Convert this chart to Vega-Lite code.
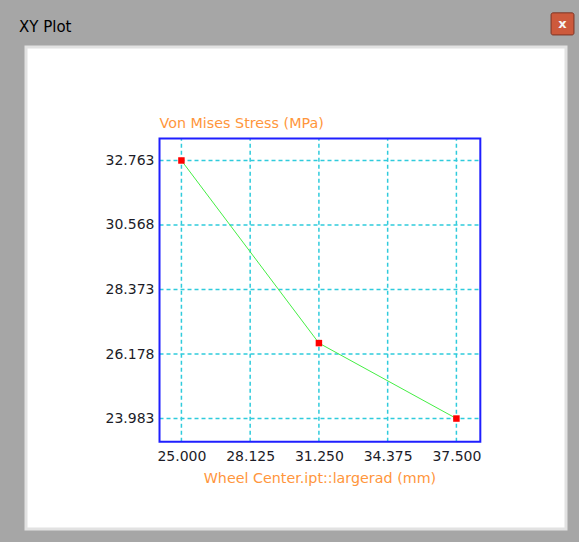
{
  "$schema": "https://vega.github.io/schema/vega-lite/v6.json",
  "width": 579,
  "height": 542,
  "autosize": {"type": "fit", "contains": "padding"},
  "padding": {"left": 19, "top": 8, "right": 3, "bottom": 13},
  "background": "#a6a6a6",
  "title": {
    "text": "XY Plot",
    "anchor": "start",
    "frame": "group",
    "offset": -23,
    "dx": -7,
    "font": "DejaVu Sans",
    "fontSize": 15,
    "fontWeight": "normal",
    "color": "#000000"
  },
  "config": {
    "view": {"fill": "#ffffff", "stroke": "#e2e2e2", "strokeWidth": 3},
    "axis": {
      "domain": false, "ticks": false, "grid": false,
      "labelFont": "DejaVu Sans", "labelFontSize": 14, "labelColor": "#1c1c28",
      "labelFlush": false, "labelOverlap": false
    }
  },
  "datasets": {
    "series": [
      {"x": 25.0, "y": 32.763},
      {"x": 31.25, "y": 26.55},
      {"x": 37.5, "y": 23.983}
    ],
    "xticks": [{"x": 25.0}, {"x": 28.125}, {"x": 31.25}, {"x": 34.375}, {"x": 37.5}],
    "yticks": [{"y": 23.983}, {"y": 26.178}, {"y": 28.373}, {"y": 30.568}, {"y": 32.763}]
  },
  "layer": [
    {
      "data": {"name": "xticks"},
      "mark": {"type": "rule", "color": "#2fcbdc", "strokeWidth": 1.5, "strokeDash": [4, 3]},
      "encoding": {
        "x": {"field": "x", "type": "quantitative", "scale": {"domain": [17.935, 42.482], "nice": false, "zero": false},
          "axis": {"values": [25, 28.125, 31.25, 34.375, 37.5], "format": ".3f", "offset": -87, "labelPadding": 7, "title": null}},
        "y": {"datum": 23.197, "type": "quantitative", "scale": {"domain": [20.225, 36.624], "nice": false, "zero": false},
          "axis": {"values": [23.983, 26.178, 28.373, 30.568, 32.763], "format": ".3f", "offset": -134, "labelPadding": 6, "title": null}},
        "y2": {"datum": 33.515}
      }
    },
    {
      "data": {"name": "yticks"},
      "mark": {"type": "rule", "color": "#2fcbdc", "strokeWidth": 1.5, "strokeDash": [4, 3]},
      "encoding": {
        "y": {"field": "y", "type": "quantitative", "scale": {"domain": [20.225, 36.624], "nice": false, "zero": false},
          "axis": {"values": [23.983, 26.178, 28.373, 30.568, 32.763], "format": ".3f", "offset": -134, "labelPadding": 6, "title": null}},
        "x": {"datum": 24.004, "type": "quantitative", "scale": {"domain": [17.935, 42.482], "nice": false, "zero": false},
          "axis": {"values": [25, 28.125, 31.25, 34.375, 37.5], "format": ".3f", "offset": -87, "labelPadding": 7, "title": null}},
        "x2": {"datum": 38.587}
      }
    },
    {
      "data": {"values": [{}]},
      "mark": {"type": "rect", "fill": null, "fillOpacity": 0, "stroke": "#1f1fff", "strokeWidth": 2},
      "encoding": {
        "x": {"datum": 24.004, "type": "quantitative", "scale": {"domain": [17.935, 42.482], "nice": false, "zero": false},
          "axis": {"values": [25, 28.125, 31.25, 34.375, 37.5], "format": ".3f", "offset": -87, "labelPadding": 7, "title": null}},
        "x2": {"datum": 38.587},
        "y": {"datum": 23.197, "type": "quantitative", "scale": {"domain": [20.225, 36.624], "nice": false, "zero": false},
          "axis": {"values": [23.983, 26.178, 28.373, 30.568, 32.763], "format": ".3f", "offset": -134, "labelPadding": 6, "title": null}},
        "y2": {"datum": 33.515}
      }
    },
    {
      "data": {"name": "series"},
      "mark": {"type": "line", "color": "#44ee44", "strokeWidth": 1},
      "encoding": {
        "x": {"field": "x", "type": "quantitative", "scale": {"domain": [17.935, 42.482], "nice": false, "zero": false},
          "axis": {"values": [25, 28.125, 31.25, 34.375, 37.5], "format": ".3f", "offset": -87, "labelPadding": 7, "title": null}},
        "y": {"field": "y", "type": "quantitative", "scale": {"domain": [20.225, 36.624], "nice": false, "zero": false},
          "axis": {"values": [23.983, 26.178, 28.373, 30.568, 32.763], "format": ".3f", "offset": -134, "labelPadding": 6, "title": null}}
      }
    },
    {
      "data": {"name": "series"},
      "mark": {"type": "square", "color": "#ff0000", "opacity": 1, "size": 42},
      "encoding": {
        "x": {"field": "x", "type": "quantitative", "scale": {"domain": [17.935, 42.482], "nice": false, "zero": false},
          "axis": {"values": [25, 28.125, 31.25, 34.375, 37.5], "format": ".3f", "offset": -87, "labelPadding": 7, "title": null}},
        "y": {"field": "y", "type": "quantitative", "scale": {"domain": [20.225, 36.624], "nice": false, "zero": false},
          "axis": {"values": [23.983, 26.178, 28.373, 30.568, 32.763], "format": ".3f", "offset": -134, "labelPadding": 6, "title": null}}
      }
    },
    {
      "data": {"values": [{}]},
      "mark": {"type": "text", "text": "Von Mises Stress (MPa)", "align": "left", "baseline": "middle", "dy": -14, "font": "DejaVu Sans", "fontSize": 14.3, "color": "#ff963c"},
      "encoding": {
        "x": {"datum": 24.004, "type": "quantitative", "scale": {"domain": [17.935, 42.482], "nice": false, "zero": false},
          "axis": {"values": [25, 28.125, 31.25, 34.375, 37.5], "format": ".3f", "offset": -87, "labelPadding": 7, "title": null}},
        "y": {"datum": 33.515, "type": "quantitative", "scale": {"domain": [20.225, 36.624], "nice": false, "zero": false},
          "axis": {"values": [23.983, 26.178, 28.373, 30.568, 32.763], "format": ".3f", "offset": -134, "labelPadding": 6, "title": null}}
      }
    },
    {
      "data": {"values": [{}]},
      "mark": {"type": "text", "text": "Wheel Center.ipt::largerad (mm)", "align": "center", "baseline": "middle", "dy": 37, "font": "DejaVu Sans", "fontSize": 14.3, "color": "#ff963c"},
      "encoding": {
        "x": {"datum": 31.2955, "type": "quantitative", "scale": {"domain": [17.935, 42.482], "nice": false, "zero": false},
          "axis": {"values": [25, 28.125, 31.25, 34.375, 37.5], "format": ".3f", "offset": -87, "labelPadding": 7, "title": null}},
        "y": {"datum": 23.197, "type": "quantitative", "scale": {"domain": [20.225, 36.624], "nice": false, "zero": false},
          "axis": {"values": [23.983, 26.178, 28.373, 30.568, 32.763], "format": ".3f", "offset": -134, "labelPadding": 6, "title": null}}
      }
    },
    {
      "data": {"values": [{}]},
      "mark": {"type": "rect", "fill": "#cd5a3c", "stroke": "#7c3424", "strokeWidth": 1, "cornerRadius": 2},
      "encoding": {
        "x": {"datum": 41.803, "type": "quantitative", "scale": {"domain": [17.935, 42.482], "nice": false, "zero": false},
          "axis": {"values": [25, 28.125, 31.25, 34.375, 37.5], "format": ".3f", "offset": -87, "labelPadding": 7, "title": null}},
        "x2": {"datum": 42.844},
        "y": {"datum": 37.786, "type": "quantitative", "scale": {"domain": [20.225, 36.624], "nice": false, "zero": false},
          "axis": {"values": [23.983, 26.178, 28.373, 30.568, 32.763], "format": ".3f", "offset": -134, "labelPadding": 6, "title": null}},
        "y2": {"datum": 37.034}
      }
    },
    {
      "data": {"values": [{}]},
      "mark": {"type": "text", "text": "x", "align": "center", "baseline": "middle", "font": "DejaVu Sans", "fontSize": 13, "fontWeight": "bold", "color": "#f4f4f4"},
      "encoding": {
        "x": {"datum": 42.3235, "type": "quantitative", "scale": {"domain": [17.935, 42.482], "nice": false, "zero": false},
          "axis": {"values": [25, 28.125, 31.25, 34.375, 37.5], "format": ".3f", "offset": -87, "labelPadding": 7, "title": null}},
        "y": {"datum": 37.41, "type": "quantitative", "scale": {"domain": [20.225, 36.624], "nice": false, "zero": false},
          "axis": {"values": [23.983, 26.178, 28.373, 30.568, 32.763], "format": ".3f", "offset": -134, "labelPadding": 6, "title": null}}
      }
    }
  ]
}
